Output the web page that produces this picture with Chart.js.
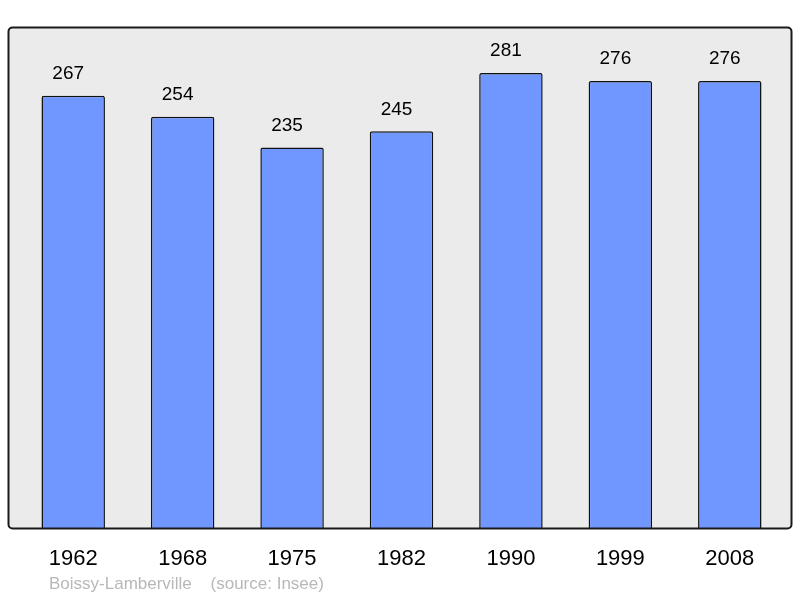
<!DOCTYPE html>
<html><head><meta charset="utf-8">
<script src="https://cdn.jsdelivr.net/npm/chart.js@4/dist/chart.umd.min.js"></script>
<style>html,body{margin:0;padding:0;background:#fff}#wrap{width:800px;height:598px}</style>
</head><body><div id="wrap"><canvas id="c" width="800" height="598"></canvas></div>
<script>
const years = ["1962","1968","1975","1982","1990","1999","2008"];
const population = [267,254,235,245,281,276,276];
const footerText = "Boissy-Lamberville    (source: Insee)";

const framePlugin = {
  id: 'frame',
  beforeDatasetsDraw(chart) {
    const ctx = chart.ctx;
    ctx.save();
    ctx.beginPath();
    ctx.roundRect(8.5, 27.5, 783, 501, 4);
    ctx.fillStyle = '#ebebeb';
    ctx.fill();
    ctx.restore();
  },
  afterDatasetsDraw(chart) {
    const ctx = chart.ctx;
    ctx.save();
    ctx.beginPath();
    ctx.roundRect(8.5, 27.5, 783, 501, 4);
    ctx.lineWidth = 2;
    ctx.strokeStyle = '#1a1a1a';
    ctx.stroke();
    // value labels
    const meta = chart.getDatasetMeta(0);
    ctx.font = '19px "Liberation Sans", Arial, sans-serif';
    ctx.fillStyle = '#000';
    ctx.textAlign = 'center';
    ctx.textBaseline = 'middle';
    meta.data.forEach((bar, i) => {
      ctx.fillText(String(population[i]), bar.x - 5, bar.y - 22);
    });
    // footer
    ctx.font = '17px "Liberation Sans", Arial, sans-serif';
    ctx.fillStyle = '#b8b8b8';
    ctx.textAlign = 'left';
    ctx.fillText(footerText, 49, 584);
    ctx.restore();
  }
};

new Chart(document.getElementById('c'), {
  type: 'bar',
  data: {
    labels: years,
    datasets: [{
      data: population,
      backgroundColor: '#7096ff',
      borderColor: '#111',
      borderWidth: 1.5,
      borderRadius: 2,
      borderSkipped: 'bottom',
      categoryPercentage: 1,
      barPercentage: 0.58
    }]
  },
  options: {
    responsive: false,
    animation: false,
    devicePixelRatio: 1,
    layout: { padding: { top: 27, left: 18.5, right: 15.5, bottom: 0 } },
    plugins: { legend: { display: false }, tooltip: { enabled: false }, title: { display: false } },
    scales: {
      x: {
        grid: { display: false, drawTicks: false },
        border: { display: false },
        ticks: { color: '#000', font: { size: 22, family: '"Liberation Sans", Arial, sans-serif' }, padding: 18, maxRotation: 0 },
        afterFit(s) { s.height = 70; }
      },
      y: { display: false, min: 0, max: 309.4 }
    }
  },
  plugins: [framePlugin]
});
</script></body></html>
